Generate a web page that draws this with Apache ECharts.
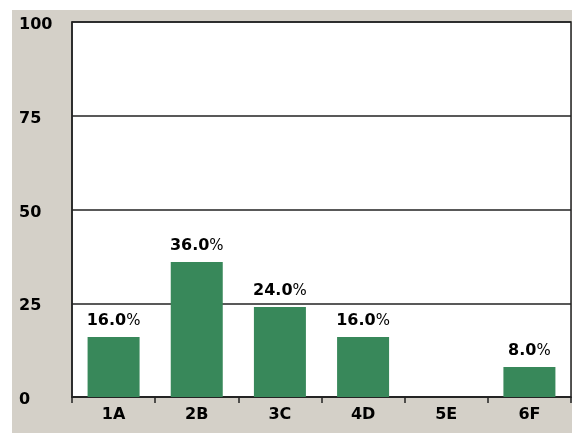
<!DOCTYPE html>
<html>
<head>
<meta charset="utf-8">
<script src="https://cdn.jsdelivr.net/npm/echarts@6/dist/echarts.min.js"></script>
<style>
html,body{margin:0;padding:0;background:#fff;}
#wrap{position:relative;width:572px;height:433px;background:#fff;}
#chart{position:absolute;left:12px;top:10px;width:560px;height:423px;background:#d4d0c8;}
</style>
</head>
<body>
<div id="wrap"><div id="chart"></div></div>
<script>
var categories = ['1A', '2B', '3C', '4D', '5E', '6F'];
var values = [16, 36, 24, 16, 0, 8];
var yTicks = [0, 25, 50, 75, 100];

var chart = echarts.init(document.getElementById('chart'), null, {renderer: 'canvas'});
var font = 'DejaVu Sans';
chart.setOption({
  backgroundColor: '#d4d0c8',
  animation: false,
  grid: {
    left: 60, top: 12, right: 1, bottom: 36,
    show: true, backgroundColor: '#ffffff', borderColor: '#222222', borderWidth: 1.5
  },
  xAxis: {
    type: 'category',
    data: categories,
    axisLine: {lineStyle: {color: '#222222', width: 1.5}},
    axisTick: {show: true, length: 6, lineStyle: {color: '#222222', width: 1.5}},
    axisLabel: {margin: 10, color: '#000', fontFamily: font, fontWeight: 'bold', fontSize: 16}
  },
  yAxis: {
    type: 'value',
    min: yTicks[0], max: yTicks[yTicks.length - 1], interval: 25,
    axisLine: {show: true, lineStyle: {color: '#222222', width: 1.5}},
    axisTick: {show: false},
    splitLine: {lineStyle: {color: '#222222', width: 1.5}},
    axisLabel: {
      align: 'left', margin: 53,
      formatter: function (v) { return '{v|' + v + '}'; },
      rich: {v: {color: '#000', fontFamily: font, fontWeight: 'bold', fontSize: 16, padding: [6, 0, 0, 0]}}
    }
  },
  series: [{
    type: 'bar',
    data: values,
    barWidth: 52,
    itemStyle: {color: '#38885a', borderWidth: 0},
    label: {
      show: true,
      position: 'top',
      distance: 8,
      formatter: function (p) { return p.value ? '{a|' + p.value.toFixed(1) + '}{b|%}' : ''; },
      rich: {
        a: {color: '#000', fontFamily: font, fontWeight: 'bold', fontSize: 16},
        b: {color: '#000', fontFamily: font, fontWeight: 'normal', fontSize: 15}
      }
    }
  }]
});
</script>
</body>
</html>
